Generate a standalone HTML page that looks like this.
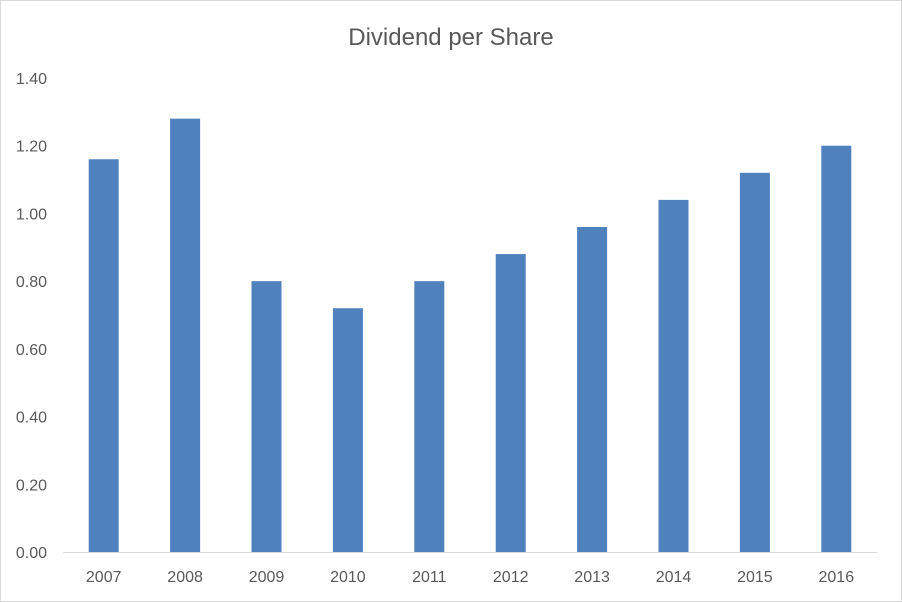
<!DOCTYPE html>
<html><head><meta charset="utf-8"><style>
html,body{margin:0;padding:0;background:#fff}
svg{display:block;font-family:"Liberation Sans",sans-serif}
</style></head><body>
<svg id="chart" width="902" height="602" viewBox="0 0 902 602" xmlns="http://www.w3.org/2000/svg">
<rect x="0.5" y="0.5" width="901" height="601" fill="#fff" stroke="#d9d9d9"/>
<text x="451" y="45" text-anchor="middle" font-size="24" fill="#595959">Dividend per Share</text>
<g id="yaxis"></g>
<g id="bars"></g>
<g id="xaxis"></g>
</svg>
<script>
const categories=["2007","2008","2009","2010","2011","2012","2013","2014","2015","2016"];
const values=[1.16,1.28,0.80,0.72,0.80,0.88,0.96,1.04,1.12,1.20];
const yTicks=[0,0.2,0.4,0.6,0.8,1.0,1.2,1.4];
(function(){
const NS="http://www.w3.org/2000/svg";
const plotL=63,plotR=877,plotT=78,plotB=552,yMax=1.4;
const yS=v=>plotB-(v/yMax)*(plotB-plotT);
const band=(plotR-plotL)/categories.length;
const xS=i=>plotL+band*(i+0.5);
const barW=30;
function mk(t,a,p){const e=document.createElementNS(NS,t);for(const k in a)e.setAttribute(k,a[k]);p.appendChild(e);return e;}
const ya=document.getElementById('yaxis'),xa=document.getElementById('xaxis'),bg=document.getElementById('bars');
yTicks.forEach(t=>{
  const e=mk('text',{x:47,y:yS(t)+6,'text-anchor':'end','font-size':16,fill:'#595959'},ya);
  
  
  e.textContent=t.toFixed(2);
});
values.forEach((v,i)=>{
  const r=mk('rect',{x:xS(i)-barW/2,y:yS(v),width:barW,height:plotB-yS(v),fill:'#4f81bd'},bg);
  
  
});
const base=mk('line',{x1:plotL,x2:plotR,y1:plotB+0.5,y2:plotB+0.5,stroke:'#d9d9d9','stroke-width':1},xa);


categories.forEach((c,i)=>{
  const e=mk('text',{x:xS(i),y:582,'text-anchor':'middle','font-size':16,fill:'#595959'},xa);
  
  
  e.textContent=c;
});
})();
</script>
</body></html>
